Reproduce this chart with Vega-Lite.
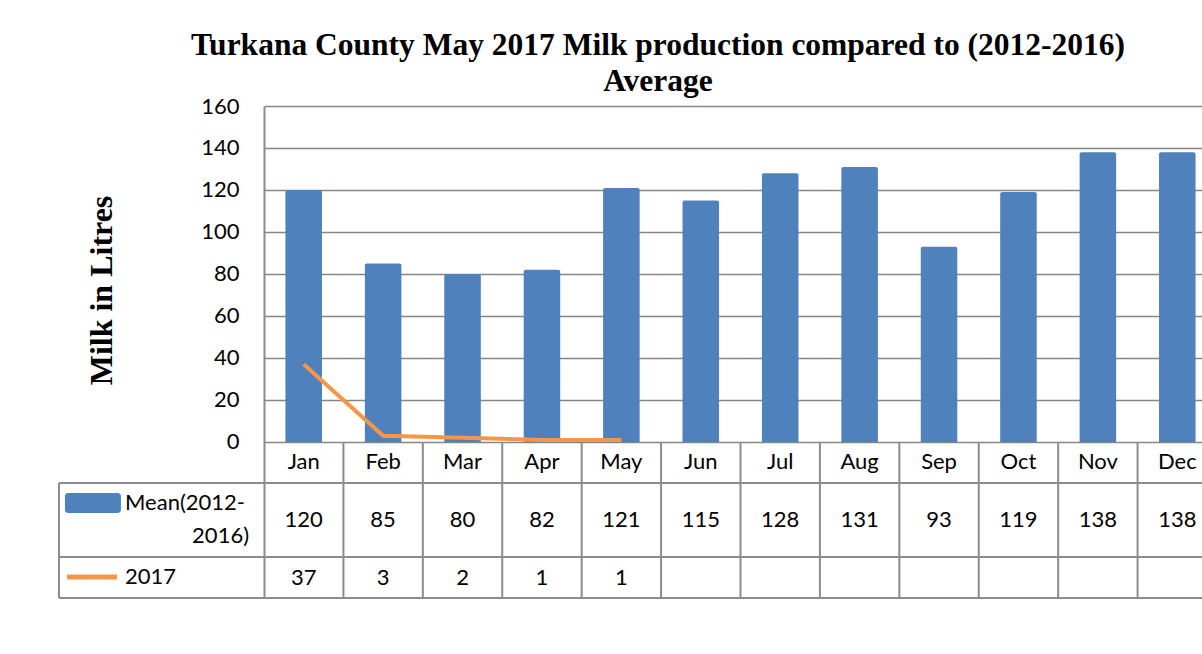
{
  "$schema": "https://vega.github.io/schema/vega-lite/v6.json",
  "padding": {"left": 58, "top": 29, "right": 0, "bottom": 0},
  "background": "white",
  "bounds": "flush",
  "spacing": 0,
  "title": {
    "text": ["Turkana County May 2017 Milk production compared to (2012-2016)", "Average"],
    "font": "Liberation Serif",
    "fontWeight": "bold",
    "fontSize": 31.5,
    "lineHeight": 36,
    "color": "black",
    "anchor": "middle",
    "dx": 27,
    "offset": -2
  },
  "config": {
    "view": {"stroke": null},
    "font": "Lato"
  },
  "datasets": {
    "milk": [
      {"month": "Jan", "mean": 120, "y2017": 37},
      {"month": "Feb", "mean": 85, "y2017": 3},
      {"month": "Mar", "mean": 80, "y2017": 2},
      {"month": "Apr", "mean": 82, "y2017": 1},
      {"month": "May", "mean": 121, "y2017": 1},
      {"month": "Jun", "mean": 115, "y2017": null},
      {"month": "Jul", "mean": 128, "y2017": null},
      {"month": "Aug", "mean": 131, "y2017": null},
      {"month": "Sep", "mean": 93, "y2017": null},
      {"month": "Oct", "mean": 119, "y2017": null},
      {"month": "Nov", "mean": 138, "y2017": null},
      {"month": "Dec", "mean": 138, "y2017": null}
    ],
    "one": [{"id": 1}]
  },
  "hconcat": [
    {
      "width": 205,
      "height": 492,
      "data": {"name": "one"},
      "layer": [
        {
          "mark": {"type": "rule", "color": "#8c8c8c", "strokeWidth": 2},
          "encoding": {
            "y": {"datum": -19.52, "type": "quantitative", "scale": {"domain": [-74.29, 160], "nice": false, "zero": false}, "axis": null}
          }
        },
        {
          "mark": {"type": "rule", "color": "#8c8c8c", "strokeWidth": 2},
          "encoding": {"y": {"datum": -54.76, "type": "quantitative"}}
        },
        {
          "mark": {"type": "rule", "color": "#8c8c8c", "strokeWidth": 2},
          "encoding": {"y": {"datum": -74.29, "type": "quantitative"}}
        },
        {
          "mark": {"type": "rule", "color": "#8c8c8c", "strokeWidth": 2},
          "encoding": {
            "x": {"datum": 0, "type": "quantitative", "scale": {"domain": [0, 1], "nice": false, "zero": false}, "axis": null},
            "y": {"datum": -19.52, "type": "quantitative"},
            "y2": {"datum": -74.29}
          }
        },
        {
          "mark": {"type": "rect", "color": "#4F81BD", "cornerRadius": 3},
          "encoding": {
            "x": {"datum": 0.029, "type": "quantitative"},
            "x2": {"datum": 0.302},
            "y": {"datum": -24.29, "type": "quantitative"},
            "y2": {"datum": -33.81}
          }
        },
        {
          "mark": {"type": "text", "align": "left", "baseline": "middle", "fontSize": 22, "color": "black", "text": "Mean(2012-"},
          "encoding": {
            "x": {"datum": 0.322, "type": "quantitative"},
            "y": {"datum": -29.05, "type": "quantitative"}
          }
        },
        {
          "mark": {"type": "text", "align": "right", "baseline": "middle", "fontSize": 22, "color": "black", "text": "2016)"},
          "encoding": {
            "x": {"datum": 0.927, "type": "quantitative"},
            "y": {"datum": -44.76, "type": "quantitative"}
          }
        },
        {
          "mark": {"type": "rule", "color": "#F79646", "strokeWidth": 5},
          "encoding": {
            "x": {"datum": 0.039, "type": "quantitative"},
            "x2": {"datum": 0.283},
            "y": {"datum": -64.3, "type": "quantitative"}
          }
        },
        {
          "mark": {"type": "text", "align": "left", "baseline": "middle", "fontSize": 22, "color": "black", "text": "2017"},
          "encoding": {
            "x": {"datum": 0.322, "type": "quantitative"},
            "y": {"datum": -64.3, "type": "quantitative"}
          }
        }
      ]
    },
    {
      "width": 939,
      "height": 492,
      "layer": [
        {
          "data": {"name": "milk"},
          "mark": {"type": "bar", "color": "#4F81BD", "width": {"band": 0.46}, "clip": true, "cornerRadiusTopLeft": 2, "cornerRadiusTopRight": 2},
          "encoding": {
            "x": {
              "field": "month",
              "type": "nominal",
              "sort": null,
              "scale": {"range": [0, 953], "paddingInner": 0, "paddingOuter": 0},
              "axis": null
            },
            "y": {
              "field": "mean",
              "type": "quantitative",
              "scale": {"domain": [-74.29, 160], "nice": false, "zero": false},
              "axis": {
                "values": [0, 20, 40, 60, 80, 100, 120, 140, 160],
                "title": "Milk in Litres",
                "titleFont": "Liberation Serif",
                "titleFontWeight": "bold",
                "titleFontSize": 32,
                "titleColor": "black",
                "titleAngle": -90,
                "titleAlign": "center",
                "titleBaseline": "middle",
                "titleX": -163,
                "titleY": 184,
                "labelFont": "Lato",
                "labelFontSize": 22,
                "labelColor": "black",
                "labelPadding": 25,
                "ticks": false,
                "domain": true,
                "domainColor": "#8c8c8c",
                "domainWidth": 2,
                "grid": true,
                "gridColor": "#868686",
                "gridWidth": 1.5
              }
            },
            "y2": {"datum": 0}
          }
        },
        {
          "data": {"name": "milk"},
          "mark": {"type": "line", "color": "#F79646", "strokeWidth": 4, "clip": true},
          "transform": [{"filter": "datum.y2017 != null"}],
          "encoding": {
            "x": {"field": "month", "type": "nominal", "sort": null},
            "y": {"field": "y2017", "type": "quantitative"}
          }
        },
        {
          "data": {"name": "one"},
          "mark": {"type": "rule", "color": "#8c8c8c", "strokeWidth": 2},
          "encoding": {"y": {"datum": -19.52, "type": "quantitative"}}
        },
        {
          "data": {"name": "one"},
          "mark": {"type": "rule", "color": "#8c8c8c", "strokeWidth": 2},
          "encoding": {"y": {"datum": -54.76, "type": "quantitative"}}
        },
        {
          "data": {"name": "one"},
          "mark": {"type": "rule", "color": "#8c8c8c", "strokeWidth": 2},
          "encoding": {"y": {"datum": -74.29, "type": "quantitative"}}
        },
        {
          "data": {"name": "milk"},
          "mark": {"type": "rule", "color": "#8c8c8c", "strokeWidth": 2, "clip": true},
          "encoding": {
            "x": {"field": "month", "type": "nominal", "sort": null, "bandPosition": 0},
            "y": {"datum": 0, "type": "quantitative"},
            "y2": {"datum": -74.29}
          }
        },
        {
          "data": {"name": "milk"},
          "mark": {"type": "text", "fontSize": 22, "color": "black", "baseline": "middle", "clip": true},
          "encoding": {
            "x": {"field": "month", "type": "nominal", "sort": null},
            "text": {"field": "month"},
            "y": {"datum": -9.6, "type": "quantitative"}
          }
        },
        {
          "data": {"name": "milk"},
          "mark": {"type": "text", "fontSize": 22, "color": "black", "baseline": "middle", "clip": true},
          "encoding": {
            "x": {"field": "month", "type": "nominal", "sort": null},
            "text": {"field": "mean"},
            "y": {"datum": -37.1, "type": "quantitative"}
          }
        },
        {
          "data": {"name": "milk"},
          "mark": {"type": "text", "fontSize": 22, "color": "black", "baseline": "middle", "clip": true},
          "transform": [{"filter": "datum.y2017 != null"}],
          "encoding": {
            "x": {"field": "month", "type": "nominal", "sort": null},
            "text": {"field": "y2017"},
            "y": {"datum": -64.8, "type": "quantitative"}
          }
        }
      ]
    }
  ]
}
